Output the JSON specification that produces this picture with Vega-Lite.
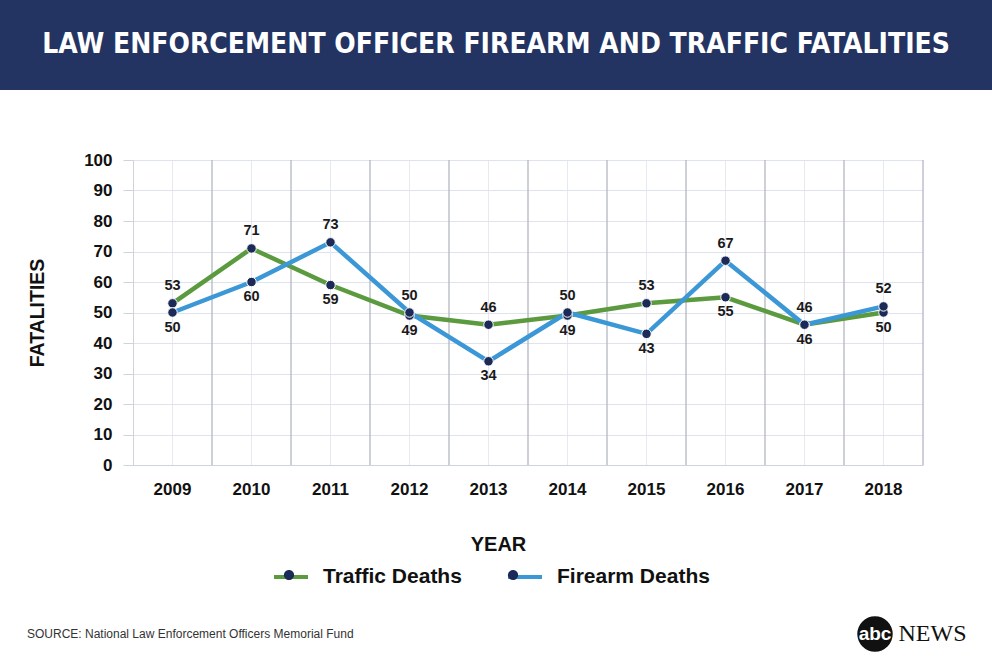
{
  "$schema": "https://vega.github.io/schema/vega-lite/v6.json",
  "padding": 0,
  "background": "white",
  "spacing": 0,
  "config": {"view": {"stroke": null}, "font": "Liberation Sans"},
  "title": {
    "text": "SOURCE: National Law Enforcement Officers Memorial Fund",
    "orient": "bottom", "anchor": "start", "frame": "bounds",
    "dx": 27, "offset": -25, "fontSize": 12, "fontWeight": "normal", "color": "#333333", "font": "Liberation Sans"
  },
  "vconcat": [
    {
      "width": 992, "height": 90,
      "view": {"fill": "#233362", "stroke": null},
      "data": {"values": [{"t": "LAW ENFORCEMENT OFFICER FIREARM AND TRAFFIC FATALITIES"}]},
      "mark": {"type": "text", "font": "DejaVu Sans Condensed", "fontSize": 28, "fontWeight": "bold", "color": "white", "baseline": "middle", "align": "center"},
      "encoding": {"text": {"field": "t"}}
    },
    {"width": 1, "height": 61, "data": {"values": []}, "mark": "point"},
    {
      "spacing": 0,
      "hconcat": [
        {"width": 27, "height": 1, "data": {"values": []}, "mark": "point"},
        {
          "width": 790, "height": 305,
          "data": {"values": [
            {"year": "2009", "series": "Traffic Deaths", "value": 53},
            {"year": "2010", "series": "Traffic Deaths", "value": 71},
            {"year": "2011", "series": "Traffic Deaths", "value": 59},
            {"year": "2012", "series": "Traffic Deaths", "value": 49},
            {"year": "2013", "series": "Traffic Deaths", "value": 46},
            {"year": "2014", "series": "Traffic Deaths", "value": 49},
            {"year": "2015", "series": "Traffic Deaths", "value": 53},
            {"year": "2016", "series": "Traffic Deaths", "value": 55},
            {"year": "2017", "series": "Traffic Deaths", "value": 46},
            {"year": "2018", "series": "Traffic Deaths", "value": 50},
            {"year": "2009", "series": "Firearm Deaths", "value": 50},
            {"year": "2010", "series": "Firearm Deaths", "value": 60},
            {"year": "2011", "series": "Firearm Deaths", "value": 73},
            {"year": "2012", "series": "Firearm Deaths", "value": 50},
            {"year": "2013", "series": "Firearm Deaths", "value": 34},
            {"year": "2014", "series": "Firearm Deaths", "value": 50},
            {"year": "2015", "series": "Firearm Deaths", "value": 43},
            {"year": "2016", "series": "Firearm Deaths", "value": 67},
            {"year": "2017", "series": "Firearm Deaths", "value": 46},
            {"year": "2018", "series": "Firearm Deaths", "value": 52}
          ]},
          "transform": [
            {"window": [{"op": "row_number", "as": "rank"}], "groupby": ["year"],
             "sort": [{"field": "value", "order": "descending"}, {"field": "series", "order": "ascending"}]}
          ],
          "layer": [
            {
              "transform": [{"filter": "datum.series === 'Traffic Deaths'"}],
              "mark": {"type": "rule", "color": "#b4b7c3", "strokeWidth": 1.3},
              "encoding": {
                "x": {"field": "year", "type": "ordinal", "bandPosition": 1,
                      "scale": {"type": "band", "paddingInner": 0, "paddingOuter": 0},
                      "axis": {"title": "YEAR", "titleFontSize": 20, "titleFontWeight": "bold", "titleColor": "#111111",
                               "titlePadding": 37, "titleX": 365,
                               "labelFontSize": 17, "labelFontWeight": "bold", "labelColor": "#111111", "labelPadding": 16,
                               "labelAngle": 0, "ticks": false, "grid": true, "gridColor": "#e6e9f1", "bandPosition": 0.5,
                               "domainColor": "#cfd3dc"}}
              }
            },
            {
              "mark": {"type": "line", "strokeWidth": 4.5},
              "encoding": {
                "x": {"field": "year", "type": "ordinal",
                      "scale": {"type": "band", "paddingInner": 0, "paddingOuter": 0},
                      "axis": {"title": "YEAR", "titleFontSize": 20, "titleFontWeight": "bold", "titleColor": "#111111",
                               "titlePadding": 37, "titleX": 365,
                               "labelFontSize": 17, "labelFontWeight": "bold", "labelColor": "#111111", "labelPadding": 16,
                               "labelAngle": 0, "ticks": false, "grid": true, "gridColor": "#e6e9f1", "bandPosition": 0.5,
                               "domainColor": "#cfd3dc"}},
                "y": {"field": "value", "type": "quantitative",
                      "scale": {"domain": [0, 100], "nice": false},
                      "axis": {"title": "FATALITIES", "values": [0, 10, 20, 30, 40, 50, 60, 70, 80, 90, 100], "tickCount": 11,
                               "labelOverlap": false,
                               "titleFontSize": 19.5, "titleFontWeight": "bold", "titleColor": "#111111", "titlePadding": 36,
                               "labelFontSize": 17, "labelFontWeight": "bold", "labelColor": "#111111", "labelPadding": 11,
                               "tickSize": 10, "tickColor": "#cfd3dc", "domainColor": "#cfd3dc", "gridColor": "#dfe3ee"}},
                "stroke": {"field": "series", "type": "nominal",
                           "scale": {"domain": ["Traffic Deaths", "Firearm Deaths"], "range": ["#5b9a3e", "#3b97d6"]},
                           "legend": {"title": null, "orient": "none", "legendX": 272, "legendY": 558, "direction": "horizontal",
                                      "padding": 0, "symbolType": "M-1,0L1,0", "symbolSize": 1156, "symbolStrokeWidth": 4,
                                      "labelFontSize": 21, "labelFontWeight": "bold", "labelColor": "#111111",
                                      "labelOffset": 13, "columnPadding": 38, "zindex": 0}}
              }
            },
            {
              "mark": {"type": "point", "filled": true, "size": 90, "opacity": 1, "stroke": "white", "strokeWidth": 1},
              "encoding": {
                "x": {"field": "year", "type": "ordinal"},
                "y": {"field": "value", "type": "quantitative",
                      "axis": {"title": "FATALITIES", "values": [0, 10, 20, 30, 40, 50, 60, 70, 80, 90, 100], "tickCount": 11,
                               "labelOverlap": false,
                               "titleFontSize": 19.5, "titleFontWeight": "bold", "titleColor": "#111111", "titlePadding": 36,
                               "labelFontSize": 17, "labelFontWeight": "bold", "labelColor": "#111111", "labelPadding": 11,
                               "tickSize": 10, "tickColor": "#cfd3dc", "domainColor": "#cfd3dc", "gridColor": "#dfe3ee"}},
                "fill": {"field": "series", "type": "nominal", "sort": ["Traffic Deaths", "Firearm Deaths"],
                         "scale": {"range": ["#1b2a57", "#1b2a57"]},
                         "legend": {"title": null, "orient": "none", "legendX": 272, "legendY": 558, "direction": "horizontal",
                                    "padding": 0, "symbolType": "M0.3,0A0.3,0.3,0,1,1,-0.3,0A0.3,0.3,0,1,1,0.3,0Z",
                                    "symbolSize": 1156, "symbolStrokeWidth": 0, "symbolOpacity": 1,
                                    "labelFontSize": 21, "labelFontWeight": "bold", "labelOpacity": 0,
                                    "labelOffset": 13, "columnPadding": 38, "zindex": 1}}
              }
            },
            {
              "transform": [{"filter": "datum.rank === 1"}],
              "mark": {"type": "text", "dy": -17, "fontSize": 14.5, "fontWeight": "bold", "color": "#1a1a1a"},
              "encoding": {
                "x": {"field": "year", "type": "ordinal"},
                "y": {"field": "value", "type": "quantitative"},
                "text": {"field": "value", "type": "quantitative"}
              }
            },
            {
              "transform": [{"filter": "datum.rank === 2"}],
              "mark": {"type": "text", "dy": 15, "fontSize": 14.5, "fontWeight": "bold", "color": "#1a1a1a"},
              "encoding": {
                "x": {"field": "year", "type": "ordinal"},
                "y": {"field": "value", "type": "quantitative"},
                "text": {"field": "value", "type": "quantitative"}
              }
            }
          ]
        }
      ]
    },
    {"width": 1, "height": 60, "data": {"values": []}, "mark": "point"},
    {
      "spacing": 0,
      "hconcat": [
        {"width": 855, "height": 40, "data": {"values": []}, "mark": "point"},
        {
          "width": 40, "height": 40,
          "data": {"values": [{"t": "abc"}]},
          "layer": [
            {"mark": {"type": "point", "shape": "circle", "filled": true, "size": 1257, "color": "#111111", "opacity": 1}, "encoding": {}},
            {"mark": {"type": "text", "fontSize": 19, "fontWeight": "bold", "color": "white", "baseline": "middle", "align": "center", "font": "Liberation Sans"},
             "encoding": {"text": {"field": "t"}}}
          ]
        },
        {
          "width": 75, "height": 40,
          "data": {"values": [{"t": "NEWS"}]},
          "mark": {"type": "text", "fontSize": 24, "font": "Liberation Serif", "color": "#111111", "baseline": "middle", "align": "center"},
          "encoding": {"text": {"field": "t"}}
        }
      ]
    }
  ]
}
